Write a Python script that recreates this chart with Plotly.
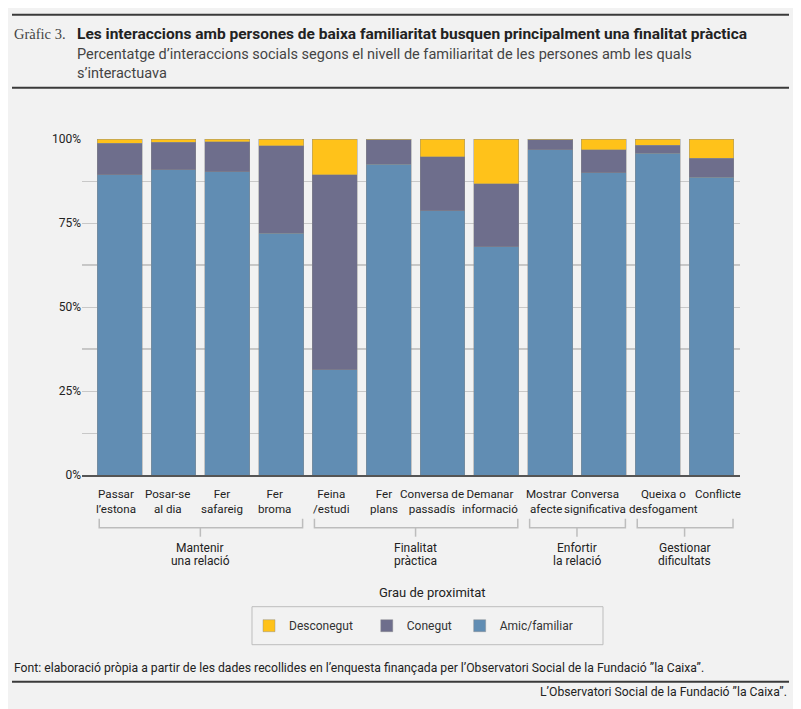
import plotly.graph_objects as go

etiquetes = ["Passar<br>l’estona", "Posar-se<br>al dia", "Fer<br>safareig", "Fer<br>broma",
             "Feina<br>/estudi", "Fer<br>plans", "Conversa de<br>passadís", "Demanar<br>informació",
             "Mostrar<br>afecte", "Conversa<br>significativa", "Queixa o<br>desfogament", "Conflicte"]
amic_familiar = [89.3, 90.8, 90.3, 71.9, 31.3, 92.5, 78.6, 67.9, 96.8, 89.9, 95.7, 88.6]
conegut = [9.4, 8.2, 8.9, 26.1, 58.0, 7.3, 16.1, 18.8, 3.0, 6.9, 2.5, 5.6]
desconegut = [1.3, 1.0, 0.8, 2.0, 10.7, 0.2, 5.3, 13.3, 0.2, 3.2, 1.8, 5.8]
grups = ["Mantenir<br>una relació", "Finalitat<br>pràctica", "Enfortir<br>la relació", "Gestionar<br>dificultats"]
grups_inici = [0, 4, 8, 10]
grups_final = [3, 7, 9, 11]

FONT = "Roboto"
FONS = "#f2f2f2"

# la pagina deixa 8 px de marge al body: la figura es fa mes petita
OFF = 8
W, H = 801 - OFF, 709 - OFF
L, R, T, B = 82 - OFF, 740 - OFF, 139.3 - OFF, 475.3 - OFF

# pixels de la captura -> coordenades paper
def px(x):
    return (x - OFF - L) / (R - L)
def py(y):
    return (B - (y - OFF)) / (B - T)

# petit desplacament horitzontal de cada etiqueta, com a l'original
desplacament = [-3.5, -5.5, -5.5, -6.5, -3.5, -4.5, -10, -6, -4, -9, 6, 6.5]

x = list(range(len(etiquetes)))
linia = dict(width=0.8, color="rgba(140,140,140,0.55)")

fig = go.Figure()
fig.add_trace(go.Bar(x=x, y=amic_familiar, name="Amic/familiar", marker=dict(color="#618db3", line=linia)))
fig.add_trace(go.Bar(x=x, y=conegut, name="Conegut\u00a0", marker=dict(color="#6e6e8c", line=linia)))
fig.add_trace(go.Bar(x=x, y=desconegut, name="Desconegut\u00a0\u00a0\u00a0", marker=dict(color="#ffc21a", line=linia)))

shapes = []
# linies de referencia mes fosques
for v in [37.5, 62.5]:
    shapes.append(dict(type="line", xref="paper", yref="y", x0=0, x1=1, y0=v, y1=v,
                       line=dict(color="#9a9a9a", width=1), layer="below"))

annotations = []
# etiquetes de l'eix x
for i, (txt, dx) in enumerate(zip(etiquetes, desplacament)):
    annotations.append(dict(x=i, y=py(485), xref="x", yref="paper", text=txt, showarrow=False, xshift=dx,
                            font=dict(family=FONT, size=11.6, color="#222"), xanchor="center", yanchor="top"))

# claudators dels grups
for nom, a, b in zip(grups, grups_inici, grups_final):
    x0, x1 = a - 0.38, b + 0.4
    y_top, y_mid, y_bot = py(519), py(528), py(537)
    shapes.append(dict(type="path", xref="x", yref="paper",
                       path=f"M {x0},{y_top} L {x0},{y_mid} L {x1},{y_mid} L {x1},{y_top}",
                       line=dict(color="#bdbdbd", width=1.5)))
    xm = (a + b) / 2
    shapes.append(dict(type="line", xref="x", yref="paper", x0=xm, x1=xm, y0=y_mid, y1=y_bot,
                       line=dict(color="#bdbdbd", width=1.5)))
    for k, part in enumerate(nom.split("<br>")):
        annotations.append(dict(x=xm, y=py(548 + 12.8 * k), xref="x", yref="paper", text=part, showarrow=False,
                                font=dict(family=FONT, size=12, color="#222"), xanchor="center", yanchor="middle"))

# linies de capcalera i peu
for yy in [15, 88, 682]:
    shapes.append(dict(type="line", xref="paper", yref="paper", x0=px(12), x1=px(789), y0=py(yy), y1=py(yy),
                       line=dict(color="#3a3a3a", width=2)))
# requadre de la llegenda
shapes.append(dict(type="rect", xref="paper", yref="paper", x0=px(252), x1=px(603), y0=py(607), y1=py(645),
                   line=dict(color="#bdbdbd", width=1)))

textos = [
    dict(x=px(12), y=py(34), text="Gràfic 3.", font=dict(family="Liberation Serif", size=14.5, color="#444")),
    dict(x=px(75), y=py(34), text="<b>Les interaccions amb persones de baixa familiaritat busquen principalment una finalitat pràctica</b>",
         font=dict(family=FONT, size=15.5, color="#222")),
    dict(x=px(75), y=py(64), text="Percentatge d’interaccions socials segons el nivell de familiaritat de les persones amb les quals<br>s’interactuava",
         font=dict(family=FONT, size=14.5, color="#444"), align="left"),
    dict(x=px(432), y=py(593), text="Grau de proximitat", xanchor="center",
         font=dict(family=FONT, size=13, color="#222")),
    dict(x=px(12), y=py(668), text="Font: elaboració pròpia a partir de les dades recollides en l’enquesta finançada per l’Observatori Social de la Fundació ”la Caixa”.",
         font=dict(family=FONT, size=12.2, color="#222")),
    dict(x=px(789), y=py(692), text="L’Observatori Social de la Fundació ”la Caixa”.", xanchor="right",
         font=dict(family=FONT, size=12.2, color="#222")),
]
for an in textos:
    an.setdefault("xref", "paper")
    an.setdefault("yref", "paper")
    an.setdefault("showarrow", False)
    an.setdefault("xanchor", "left")
    an.setdefault("yanchor", "middle")
annotations += textos

fig.update_layout(
    barmode="stack",
    bargap=0.165,
    width=W, height=H,
    margin=dict(l=L, r=W - R, t=T, b=H - B, autoexpand=False),
    paper_bgcolor=FONS, plot_bgcolor=FONS,
    font=dict(family=FONT, size=12, color="#222"),
    showlegend=True,
    legend=dict(orientation="h", traceorder="reversed", x=px(249), y=py(626), xanchor="left", yanchor="middle",
                borderwidth=0, bgcolor="rgba(0,0,0,0)",
                font=dict(family=FONT, size=12, color="#333"), itemwidth=30),
    shapes=shapes,
    annotations=annotations,
)
fig.update_xaxes(range=[-0.7, 11.53], tickvals=x, showticklabels=False, showgrid=False, zeroline=False,
                 showline=True, linecolor="#555", linewidth=1.5, ticks="", fixedrange=True)
fig.update_yaxes(range=[0, 100], tickvals=[0, 25, 50, 75, 100], ticktext=["0%", "25%", "50%", "75%", "100%"],
                 showgrid=True, gridcolor="#c8c8c8", gridwidth=1, zeroline=False, ticks="",
                 minor=dict(dtick=12.5, showgrid=True, gridcolor="#c8c8c8", gridwidth=1),
                 tickfont=dict(family=FONT, size=12, color="#222"))

fig.write_html("out.html")
